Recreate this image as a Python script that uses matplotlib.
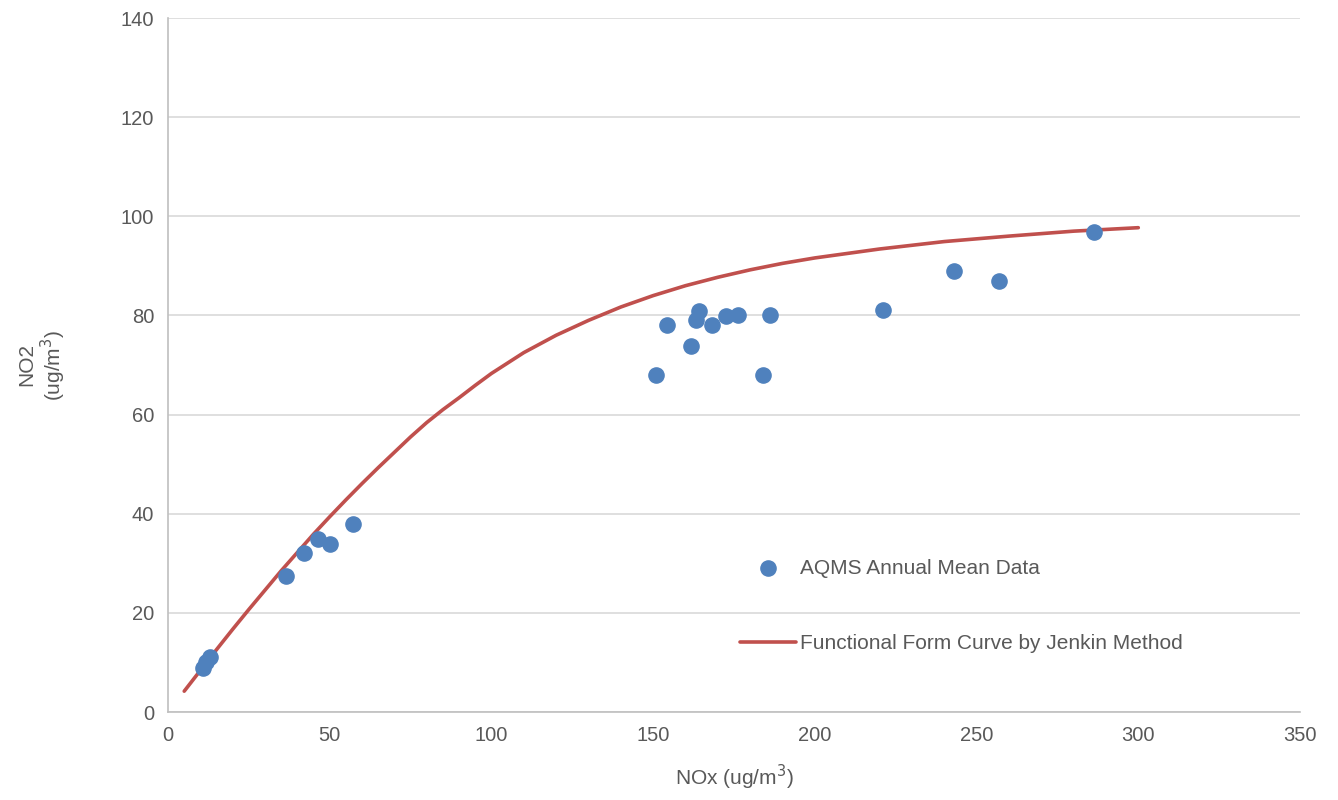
import numpy as np
import matplotlib.pyplot as plt

plt.rcParams['font.family'] = ['Liberation Sans Narrow', 'Liberation Sans', 'DejaVu Sans']

# AQMS annual mean data
nox_obs = [10.8, 11.7, 13.0, 36.5, 42.0, 46.4, 50.0, 57.2,
           150.9, 154.3, 161.7, 163.3, 164.2, 168.2, 172.5, 176.3, 186.1, 184.0,
           221.0, 243.0, 257.0, 286.3]
no2_obs = [8.9, 10.1, 11.1, 27.4, 32.0, 34.9, 33.9, 37.9,
           68.0, 78.0, 73.8, 79.0, 80.9, 78.0, 79.9, 80.0, 80.0, 68.0,
           81.0, 89.0, 87.0, 96.8]

# Jenkin functional form curve
nox_curve = [5, 10, 15, 20, 25, 30, 35, 40, 45, 50, 55, 60, 65, 70, 75, 80, 85, 90,
             95, 100, 110, 120, 130, 140, 150, 160, 170, 180, 190, 200,
             220, 240, 260, 280, 300]
no2_curve = [4.2, 8.4, 12.6, 16.7, 20.7, 24.6, 28.5, 32.2, 35.9, 39.4, 42.8, 46.1,
             49.3, 52.4, 55.5, 58.4, 61.0, 63.4, 65.9, 68.3, 72.5, 76.0, 79.0,
             81.7, 84.0, 86.0, 87.7, 89.2, 90.5, 91.6, 93.4, 94.9, 96.0, 97.0, 97.7]

txt = '#595959'
fig = plt.figure(figsize=(13.38, 8), dpi=100)
ax = fig.add_axes([0.1256, 0.11, 0.846, 0.8675])

ax.scatter(nox_obs, no2_obs, s=120, color='#4F81BD', zorder=3,
           label='AQMS Annual Mean Data')
ax.plot(nox_curve, no2_curve, color='#C0504D', lw=2.6, zorder=2,
        solid_capstyle='round', solid_joinstyle='round',
        label='Functional Form Curve by Jenkin Method')

ax.set_xlim(0, 350)
ax.set_ylim(0, 140)
ax.set_xticks(np.arange(0, 351, 50))
ax.set_yticks(np.arange(0, 141, 20))
ax.grid(axis='y', color='#d9d9d9', lw=1.2)
ax.set_axisbelow(True)
for s in ['top', 'right']:
    ax.spines[s].set_visible(False)
for s in ['left', 'bottom']:
    ax.spines[s].set_color('#bfbfbf')
    ax.spines[s].set_linewidth(1.2)
ax.tick_params(length=0, labelsize=14.5, colors=txt, pad=10)

ax.set_xlabel('NOx (ug/m$^3$)', fontsize=15, color=txt, labelpad=13)
ax.set_ylabel('NO2\n(ug/m$^3$)', fontsize=15, color=txt, labelpad=38,
              linespacing=1.1)

ax.legend(loc='upper left', bbox_to_anchor=(0.489, 0.248), frameon=False,
          fontsize=15, labelcolor=txt, labelspacing=2.7, handlelength=2.65,
          handletextpad=0.2)

plt.savefig('out.png')
